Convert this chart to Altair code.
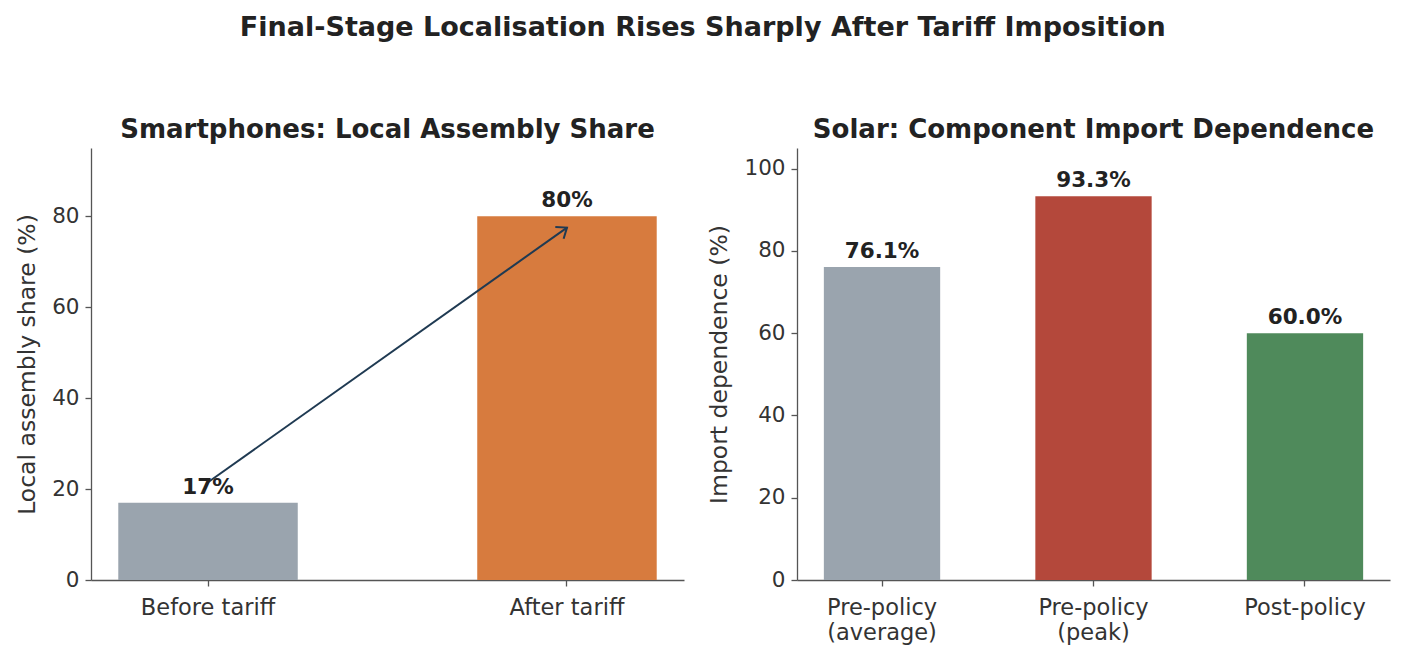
import altair as alt
import pandas as pd

# Data
phone_cats = ["Before tariff", "After tariff"]
phone_vals = [17, 80]
phone_labels = ["17%", "80%"]
phone_colors = ["#9AA4AE", "#D77B3E"]

solar_cats = ["Pre-policy\n(average)", "Pre-policy\n(peak)", "Post-policy"]
solar_vals = [76.1, 93.3, 60.0]
solar_labels = ["76.1%", "93.3%", "60.0%"]
solar_colors = ["#9AA4AE", "#B4483B", "#4F8A5B"]

arrow_from = ["Before tariff", 21.5]
arrow_to = ["After tariff", 77.5]

FONT = "DejaVu Sans"
TXT = "#222222"
AX = "#333333"

phone_df = pd.DataFrame({"cat": phone_cats, "val": phone_vals, "lab": phone_labels, "col": phone_colors})
solar_df = pd.DataFrame({"cat": solar_cats, "val": solar_vals, "lab": solar_labels, "col": solar_colors})
arrow_df = pd.DataFrame({"c1": [arrow_from[0]], "v1": [arrow_from[1]], "c2": [arrow_to[0]], "v2": [arrow_to[1]]})

W, H = 593, 432

phone_scale = alt.Scale(domain=phone_cats, paddingInner=0.5, paddingOuter=0.076)
x_phone = alt.X("cat:N", title=None, scale=phone_scale,
                axis=alt.Axis(labelAngle=0, labelPadding=10, labelFontSize=22.5))
y_phone = alt.Y("val:Q", title="Local assembly share (%)",
                scale=alt.Scale(domain=[0, 95], nice=False),
                axis=alt.Axis(values=[0, 20, 40, 60, 80], grid=False))

bars1 = alt.Chart(phone_df).mark_bar().encode(
    x=x_phone, y=y_phone, color=alt.Color("col:N", scale=None))
text1 = alt.Chart(phone_df).mark_text(dy=-15, fontWeight="bold", fontSize=21.5, font=FONT, color=TXT).encode(
    x=alt.X("cat:N", scale=phone_scale), y="val:Q", text="lab:N")
arrow_line = alt.Chart(arrow_df).mark_rule(color="#1F3A52", strokeWidth=2).encode(
    x=alt.X("c1:N", scale=phone_scale), x2="c2:N", y="v1:Q", y2="v2:Q")
arrow_head = alt.Chart(arrow_df).mark_point(
    shape="M -0.7 0.9 L 0 0 L 0.7 0.9", angle=54.6, size=420, color="#1F3A52",
    strokeWidth=2, filled=False, opacity=1).encode(
    x=alt.X("c2:N", scale=phone_scale), y="v2:Q")

left = alt.layer(bars1, arrow_line, arrow_head, text1).properties(
    width=W, height=H,
    title=alt.TitleParams("Smartphones: Local Assembly Share", fontSize=26, fontWeight="bold",
                          font=FONT, color=TXT, offset=5))

solar_scale = alt.Scale(domain=solar_cats, paddingInner=0.45, paddingOuter=0.127)
x_solar = alt.X("cat:N", title=None, scale=solar_scale,
                axis=alt.Axis(labelAngle=0, labelPadding=10, labelFontSize=22.5,
                              labelExpr="split(datum.value, '\\n')"))
y_solar = alt.Y("val:Q", title="Import dependence (%)",
                scale=alt.Scale(domain=[0, 105], nice=False),
                axis=alt.Axis(values=[0, 20, 40, 60, 80, 100], grid=False))

bars2 = alt.Chart(solar_df).mark_bar().encode(
    x=x_solar, y=y_solar, color=alt.Color("col:N", scale=None))
text2 = alt.Chart(solar_df).mark_text(dy=-15, fontWeight="bold", fontSize=21.5, font=FONT, color=TXT).encode(
    x=alt.X("cat:N", scale=solar_scale), y="val:Q", text="lab:N")

right = alt.layer(bars2, text2).properties(
    width=W, height=H,
    title=alt.TitleParams("Solar: Component Import Dependence", fontSize=26, fontWeight="bold",
                          font=FONT, color=TXT, offset=5))

chart = alt.hconcat(left, right, spacing=23).properties(
    background="white",
    padding={"left": 7, "top": 6, "right": 5, "bottom": 5},
    title=alt.TitleParams("Final-Stage Localisation Rises Sharply After Tariff Imposition",
                          fontSize=27, fontWeight="bold", font=FONT, color=TXT,
                          anchor="middle", offset=75)
).configure_view(stroke=None).configure_axis(
    labelFont=FONT, titleFont=FONT, labelFontSize=21.5, titleFontSize=23.5,
    labelColor=AX, titleColor=AX, titleFontWeight="normal",
    domainColor="#555555", tickColor="#555555", domainWidth=1.3, tickWidth=1.3,
    tickSize=6, labelPadding=6, titlePadding=12, labelLineHeight=25
)

chart.save("out.html", embed_options={"renderer": "svg", "actions": False})
